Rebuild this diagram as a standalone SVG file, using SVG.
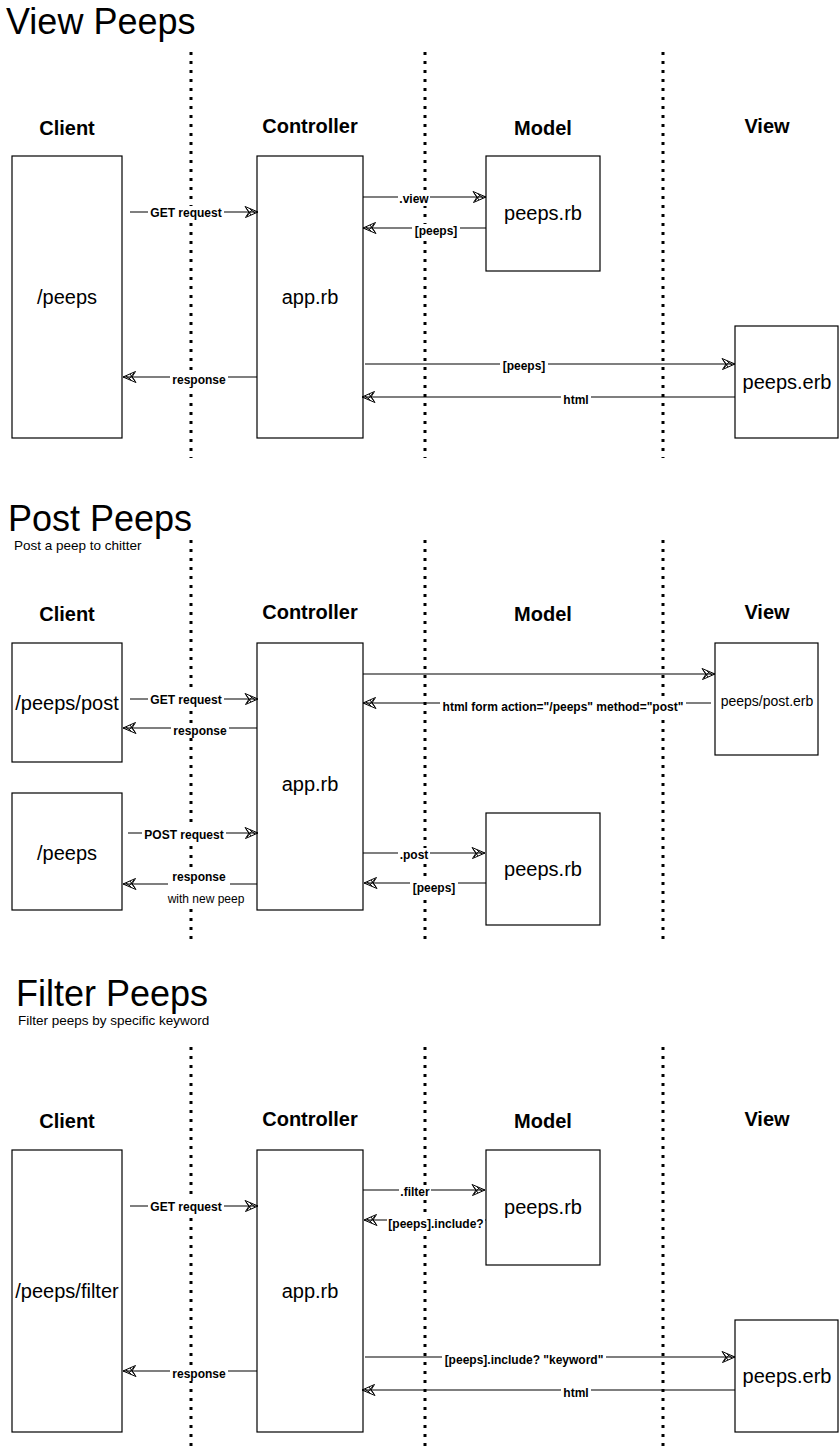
<svg xmlns="http://www.w3.org/2000/svg" width="840" height="1452" viewBox="0 0 840 1452">
<defs>
<style>
.title{font-family:"Liberation Sans",Arial,sans-serif;font-size:36px;fill:#000}
.sub{font-family:"Liberation Sans",Arial,sans-serif;font-size:13.5px;fill:#000}
.hdr{font-family:"Liberation Sans",Arial,sans-serif;font-size:20px;font-weight:bold;fill:#000;text-anchor:middle}
.box{fill:#fff;stroke:#000;stroke-width:1.2}
.bt{font-family:"Liberation Sans",Arial,sans-serif;font-size:20px;fill:#000;text-anchor:middle;dominant-baseline:central}
.bts{font-family:"Liberation Sans",Arial,sans-serif;font-size:14px;fill:#000;text-anchor:middle;dominant-baseline:central}
.lane{stroke:#000;stroke-width:3;stroke-dasharray:3 6;fill:none}
.edge{stroke:#000;stroke-width:1.2;fill:none;marker-end:url(#ah)}
.lb{fill:#fff;stroke:none}
.lbl{font-family:"Liberation Sans",Arial,sans-serif;font-size:12px;font-weight:bold;fill:#000;text-anchor:middle;dominant-baseline:central}
.lbln{font-family:"Liberation Sans",Arial,sans-serif;font-size:12px;fill:#000;text-anchor:middle;dominant-baseline:central}
</style>
<marker id="ah" markerWidth="16" markerHeight="14" refX="14" refY="7" orient="auto" markerUnits="userSpaceOnUse">
<path d="M1,1.5 L14,7 L1.5,12.5 L5,7 Z M2,3 L7,10 M3,11 L8,5 M6,4 L11,8" fill="none" stroke="#000" stroke-width="1"/>
</marker>
</defs>

<!-- Section 1: View Peeps -->
<g id="s1-title"><text class="title" x="6" y="34">View Peeps</text></g>
<g id="s1-lanes">
<line class="lane" x1="191" y1="52" x2="191" y2="458"/>
<line class="lane" x1="425" y1="52" x2="425" y2="458"/>
<line class="lane" x1="663" y1="52" x2="663" y2="458"/>
</g>
<g id="s1-headers">
<text class="hdr" x="67" y="135">Client</text>
<text class="hdr" x="310" y="133">Controller</text>
<text class="hdr" x="543" y="135">Model</text>
<text class="hdr" x="767" y="133">View</text>
</g>
<g id="s1-client"><rect class="box" x="12" y="156" width="110" height="282"/><text class="bt" x="67" y="297">/peeps</text></g>
<g id="s1-controller"><rect class="box" x="257" y="156" width="106" height="282"/><text class="bt" x="310" y="297">app.rb</text></g>
<g id="s1-model"><rect class="box" x="486" y="156" width="114" height="115"/><text class="bt" x="543" y="213">peeps.rb</text></g>
<g id="s1-view"><rect class="box" x="735" y="326" width="103" height="112"/><text class="bt" x="787" y="382">peeps.erb</text></g>
<g id="s1-edges">
<line class="edge" x1="130" y1="212" x2="258" y2="212"/><rect class="lb" x="148" y="206" width="76" height="14"/><text class="lbl" x="186" y="213">GET request</text>
<line class="edge" x1="257" y1="377" x2="123" y2="377"/><rect class="lb" x="170" y="373" width="58" height="14"/><text class="lbl" x="199" y="380">response</text>
<line class="edge" x1="363" y1="197" x2="486" y2="197"/><rect class="lb" x="398" y="192" width="32" height="14"/><text class="lbl" x="414" y="199">.view</text>
<line class="edge" x1="486" y1="228" x2="363" y2="228"/><rect class="lb" x="412" y="224" width="48" height="14"/><text class="lbl" x="436" y="231">[peeps]</text>
<line class="edge" x1="365" y1="364" x2="735" y2="364"/><rect class="lb" x="500" y="359" width="48" height="14"/><text class="lbl" x="524" y="366">[peeps]</text>
<line class="edge" x1="735" y1="397" x2="362" y2="397"/><rect class="lb" x="561" y="393" width="30" height="14"/><text class="lbl" x="576" y="400">html</text>
</g>

<!-- Section 2: Post Peeps -->
<g id="s2-title"><text class="title" x="8" y="531">Post Peeps</text><text class="sub" x="14" y="550">Post a peep to chitter</text></g>
<g id="s2-lanes">
<line class="lane" x1="191" y1="540" x2="191" y2="943"/>
<line class="lane" x1="425" y1="540" x2="425" y2="943"/>
<line class="lane" x1="663" y1="540" x2="663" y2="943"/>
</g>
<g id="s2-headers">
<text class="hdr" x="67" y="621">Client</text>
<text class="hdr" x="310" y="619">Controller</text>
<text class="hdr" x="543" y="621">Model</text>
<text class="hdr" x="767" y="619">View</text>
</g>
<g id="s2-client-post"><rect class="box" x="12" y="643" width="110" height="119"/><text class="bt" x="67" y="703">/peeps/post</text></g>
<g id="s2-client-peeps"><rect class="box" x="12" y="793" width="110" height="117"/><text class="bt" x="67" y="853">/peeps</text></g>
<g id="s2-controller"><rect class="box" x="257" y="643" width="106" height="267"/><text class="bt" x="310" y="784">app.rb</text></g>
<g id="s2-model"><rect class="box" x="486" y="813" width="114" height="112"/><text class="bt" x="543" y="869">peeps.rb</text></g>
<g id="s2-view"><rect class="box" x="715" y="643" width="103" height="112"/><text class="bts" x="767" y="701">peeps/post.erb</text></g>
<g id="s2-edges">
<line class="edge" x1="130" y1="699" x2="258" y2="699"/><rect class="lb" x="148" y="693" width="76" height="14"/><text class="lbl" x="186" y="700">GET request</text>
<line class="edge" x1="257" y1="728" x2="123" y2="728"/><rect class="lb" x="171" y="724" width="58" height="14"/><text class="lbl" x="200" y="731">response</text>
<line class="edge" x1="363" y1="674" x2="715" y2="674"/>
<line class="edge" x1="711" y1="703" x2="363" y2="703"/><rect class="lb" x="440" y="700" width="246" height="14"/><text class="lbl" x="563" y="707">html form action="/peeps" method="post"</text>
<line class="edge" x1="128" y1="833" x2="258" y2="833"/><rect class="lb" x="142" y="828" width="84" height="14"/><text class="lbl" x="184" y="835">POST request</text>
<line class="edge" x1="257" y1="884" x2="123" y2="884"/><rect class="lb" x="168" y="869" width="62" height="38"/><rect class="lb" x="166" y="892" width="80" height="14"/><text class="lbl" x="199" y="877">response</text><text class="lbln" x="206" y="899">with new peep</text>
<line class="edge" x1="363" y1="853" x2="485" y2="853"/><rect class="lb" x="398" y="848" width="32" height="14"/><text class="lbl" x="414" y="855">.post</text>
<line class="edge" x1="486" y1="883" x2="364" y2="883"/><rect class="lb" x="410" y="881" width="48" height="14"/><text class="lbl" x="434" y="888">[peeps]</text>
</g>

<!-- Section 3: Filter Peeps -->
<g id="s3-title"><text class="title" x="16" y="1006">Filter Peeps</text><text class="sub" x="18" y="1025">Filter peeps by specific keyword</text></g>
<g id="s3-lanes">
<line class="lane" x1="191" y1="1047" x2="191" y2="1452"/>
<line class="lane" x1="425" y1="1047" x2="425" y2="1452"/>
<line class="lane" x1="663" y1="1047" x2="663" y2="1452"/>
</g>
<g id="s3-headers">
<text class="hdr" x="67" y="1128">Client</text>
<text class="hdr" x="310" y="1126">Controller</text>
<text class="hdr" x="543" y="1128">Model</text>
<text class="hdr" x="767" y="1126">View</text>
</g>
<g id="s3-client"><rect class="box" x="12" y="1150" width="110" height="282"/><text class="bt" x="67" y="1291">/peeps/filter</text></g>
<g id="s3-controller"><rect class="box" x="257" y="1150" width="106" height="282"/><text class="bt" x="310" y="1291">app.rb</text></g>
<g id="s3-model"><rect class="box" x="486" y="1150" width="114" height="115"/><text class="bt" x="543" y="1207">peeps.rb</text></g>
<g id="s3-view"><rect class="box" x="735" y="1320" width="103" height="112"/><text class="bt" x="787" y="1376">peeps.erb</text></g>
<g id="s3-edges">
<line class="edge" x1="130" y1="1206" x2="258" y2="1206"/><rect class="lb" x="148" y="1200" width="76" height="14"/><text class="lbl" x="186" y="1207">GET request</text>
<line class="edge" x1="257" y1="1371" x2="123" y2="1371"/><rect class="lb" x="170" y="1367" width="58" height="14"/><text class="lbl" x="199" y="1374">response</text>
<line class="edge" x1="363" y1="1190" x2="485" y2="1190"/><rect class="lb" x="399" y="1185" width="32" height="14"/><text class="lbl" x="415" y="1192">.filter</text>
<line class="edge" x1="486" y1="1220" x2="364" y2="1220"/><rect class="lb" x="387" y="1217" width="98" height="14"/><text class="lbl" x="436" y="1224">[peeps].include?</text>
<line class="edge" x1="365" y1="1357" x2="735" y2="1357"/><rect class="lb" x="442" y="1353" width="164" height="14"/><text class="lbl" x="524" y="1360">[peeps].include? "keyword"</text>
<line class="edge" x1="735" y1="1390" x2="362" y2="1390"/><rect class="lb" x="561" y="1386" width="30" height="14"/><text class="lbl" x="576" y="1393">html</text>
</g>
</svg>
